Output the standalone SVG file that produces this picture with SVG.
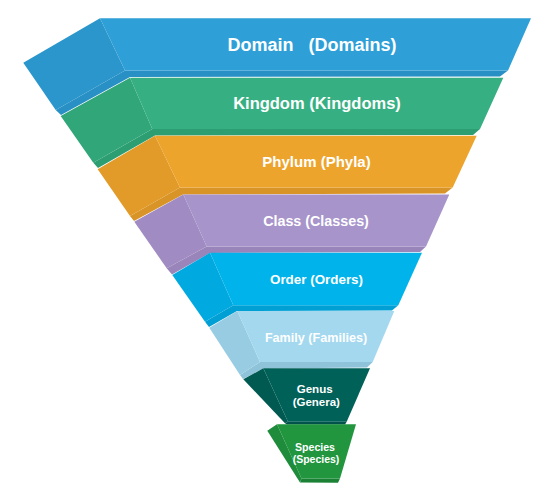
<svg xmlns="http://www.w3.org/2000/svg" width="551" height="493" viewBox="0 0 551 493">
<style>
text{font-family:"Liberation Sans",Arial,sans-serif;font-weight:bold;fill:#ffffff;text-anchor:middle;white-space:pre}
.d1{fill:#2E9FD7}.d2{fill:#2A96CC}.d3{fill:#2890C4}
.k1{fill:#36B083}.k2{fill:#30A679}.k3{fill:#2D9E72}
.p1{fill:#EDA42D}.p2{fill:#E29B28}.p3{fill:#D99428}
.c1{fill:#A794CB}.c2{fill:#A08BC3}.c3{fill:#9A85BA}
.o1{fill:#00B4EB}.o2{fill:#00A9E0}.o3{fill:#00A0D5}
.f1{fill:#A3D8EF}.f2{fill:#97CCE3}.f3{fill:#8EC3DA}
.g1{fill:#006159}.g2{fill:#005A52}.g3{fill:#00524A}
.s1{fill:#21963F}.s2{fill:#1E8C3A}.s3{fill:#1B8235}
</style>
<g id="domain">
<polygon class="d3" points="55.7,110 125,70.5 508,70.5 500,76.5 130,77 61,115"/>
<polygon class="d2" points="100,18.3 23.3,62.7 55.7,110 125,70.5"/>
<polygon class="d1" points="100,18.3 531,18.3 508,70.5 125,70.5"/>
<text x="312" y="50.7" font-size="18" xml:space="preserve">Domain   (Domains)</text>
</g>
<g id="kingdom">
<polygon class="k3" points="93.3,162.7 152.3,129 480,129 473,135 155,135.5 98,168"/>
<polygon class="k2" points="130,77.7 60.7,116 93.3,162.7 152.3,129"/>
<polygon class="k1" points="130,77.7 503.3,77.7 480,129 152.3,129"/>
<text x="317" y="109" font-size="16.5">Kingdom (Kingdoms)</text>
</g>
<g id="phylum">
<polygon class="p3" points="130,216 180,187.5 452.7,187.5 445,193.5 183,194.5 134,221"/>
<polygon class="p2" points="155,135.7 97.7,169.3 130,216 180,187.5"/>
<polygon class="p1" points="155,135.7 476.7,135.7 452.7,187.5 180,187.5"/>
<text x="316.5" y="167.3" font-size="15">Phylum (Phyla)</text>
</g>
<g id="class">
<polygon class="c3" points="166.7,268.3 206.7,246.5 426,246.5 420,252 210,253 172,274.5"/>
<polygon class="c2" points="183.3,194.5 134.3,221.7 166.7,268.3 206.7,246.5"/>
<polygon class="c1" points="183.3,194.5 449.3,194.5 426,246.5 206.7,246.5"/>
<text x="316" y="225.7" font-size="14.3">Class (Classes)</text>
</g>
<g id="order">
<polygon class="o3" points="205,321.7 233.3,305.3 398.3,305.3 392,310.5 237,311 209,327"/>
<polygon class="o2" points="210,252.7 172.3,275 205,321.7 233.3,305.3"/>
<polygon class="o1" points="210,252.7 422,252.7 398.3,305.3 233.3,305.3"/>
<text x="316.5" y="284" font-size="13.4">Order (Orders)</text>
</g>
<g id="family">
<polygon class="f3" points="240,375 260,362 372.7,362 367,367.5 263,368.5 243,379"/>
<polygon class="f2" points="237.3,311 209.3,327.7 240,375 260,362"/>
<polygon class="f1" points="237.3,311 394.3,311 372.7,362 260,362"/>
<text x="316" y="341.7" font-size="12.6">Family (Families)</text>
</g>
<g id="genus">
<polygon class="g3" points="285,423.3 288,421.7 346.7,421.7 345,424.5 287,424.5"/>
<polygon class="g2" points="263.3,368.3 243.3,379.3 285,423.3 288,421.7"/>
<polygon class="g1" points="263.3,368.3 370,368.3 346.7,421.7 288,421.7"/>
<text x="314.7" y="392.7" font-size="11.6">Genus</text>
<text x="316.3" y="406" font-size="11.5">(Genera)</text>
</g>
<g id="species">
<polygon class="s3" points="300,482.5 301.5,478.5 340,478.5 338,482.7"/>
<polygon class="s2" points="277,424.3 267.3,430.7 300,482.5 301.5,478.5"/>
<polygon class="s1" points="277,424.3 356,424.3 340,478.5 301.5,478.5"/>
<text x="315" y="450.7" font-size="10.6">Species</text>
<text x="316" y="462.7" font-size="10.5">(Species)</text>
</g>
</svg>
